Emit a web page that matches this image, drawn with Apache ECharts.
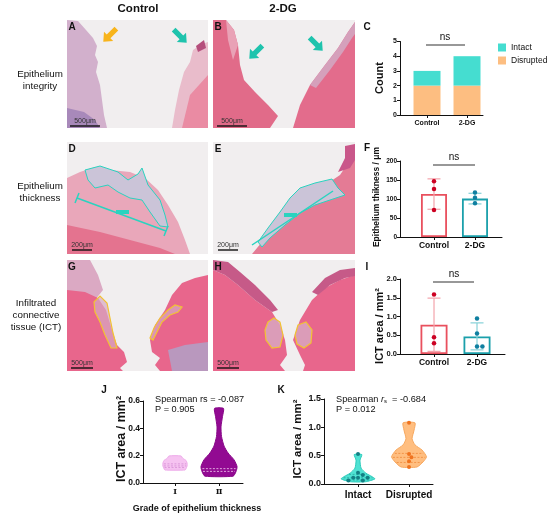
<!DOCTYPE html>
<html>
<head>
<meta charset="utf-8">
<script src="https://cdn.jsdelivr.net/npm/echarts@6/dist/echarts.min.js"></script>
<style>
html, body { margin: 0; padding: 0; background: #fff; }
#main { width: 550px; height: 517px; }
</style>
</head>
<body>
<div id="main"></div>
<script>
// C - epithelium integrity counts
var cCats = ['Control', '2-DG'];
var cDisrupted = [2, 2];
var cIntact = [1, 2];

// F - epithelium thickness
var fCats = ['Control', '2-DG'];
var fMean = [113, 101];
var fSd = [40, 14];
var fPoints = [[147, 126, 71], [117, 103, 89]];

// I - ICT area
var iCats = ['Control', '2-DG'];
var iMean = [0.78, 0.47];
var iSd = [0.71, 0.36];
var iPoints = [[1.59, 0.45, 0.29], [0.95, 0.55, 0.2, 0.2]];

// J - violins by grade of thickness
var jCats = ['Ⅰ', 'Ⅱ'];
var jLevels = [[0.095, 0.105, 0.125, 0.145, 0.165, 0.18, 0.198],
               [0.05, 0.083, 0.12, 0.17, 0.22, 0.27, 0.34, 0.41, 0.485, 0.546]];
var jDensity = [[0.56, 0.61, 0.67, 0.67, 0.61, 0.44, 0.33],
                [0.78, 0.94, 1, 0.83, 0.5, 0.28, 0.14, 0.11, 0.19, 0.25]];
var jQuart = [[0.113, 0.125, 0.14], [0.085, 0.105]];

// K - violins by integrity
var kCats = ['Intact', 'Disrupted'];
var kLevels = [[0.04, 0.09, 0.13, 0.19, 0.28, 0.42, 0.52],
               [0.30, 0.39, 0.48, 0.60, 0.69, 0.80, 0.95, 1.08]];
var kDensity = [[0.42, 0.94, 0.78, 0.44, 0.17, 0.11, 0.21],
                [0.44, 0.78, 0.97, 0.72, 0.33, 0.17, 0.28, 0.33]];
var kQuart = [[0.07, 0.11, 0.17], [0.38, 0.47, 0.54]];
var kPoints = [[0.53, 0.2, 0.16, 0.11, 0.11, 0.11, 0.06, 0.06], [1.08, 0.53, 0.47, 0.40, 0.30]];

var FONT = 'Liberation Sans, Arial, sans-serif';
var chart = echarts.init(document.getElementById('main'));

//密度插值
function densAt(lv, dn, q) {
    if (q <= lv[0]) return dn[0];
    for (var i = 1; i < lv.length; i++) {
        if (q <= lv[i]) return dn[i - 1] + (dn[i] - dn[i - 1]) * (q - lv[i - 1]) / (lv[i] - lv[i - 1]);
    }
    return dn[dn.length - 1];
}

function violin(levels, dens, quart, half, fills, strokes, qColors) {
    return function (params, api) {
        var k = api.value(0);
        var lv = levels[k], dn = dens[k];
        var w = api.size([half, 0])[0];
        var right = [], left = [];
        for (var i = 0; i < lv.length; i++) {
            var c = api.coord([k, lv[i]]);
            right.push([c[0] + dn[i] * w, c[1]]);
            left.unshift([c[0] - dn[i] * w, c[1]]);
        }
        var children = [{
            type: 'polygon',
            shape: {points: right.concat(left), smooth: 0.2},
            style: {fill: fills[k], stroke: strokes[k], lineWidth: 1}
        }];
        quart[k].forEach(function (q) {
            var c = api.coord([k, q]);
            var d = densAt(lv, dn, q) * w - 1;
            children.push({
                type: 'line',
                shape: {x1: c[0] - d, y1: c[1], x2: c[0] + d, y2: c[1]},
                style: {stroke: qColors[k], lineWidth: 0.8, lineDash: [2, 1.5]}
            });
        });
        return {type: 'group', children: children};
    };
}

//散点避让
function swarm(groups, size, colors) {
    return function (params, api) {
        var k = api.value(0), j = api.value(2);
        var vals = groups[k];
        var x0 = api.coord([k, 0])[0];
        var placed = [];
        for (var m = 0; m <= j; m++) {
            var y = api.coord([k, vals[m]])[1];
            var x = x0;
            for (var t = 0; t < 30; t++) {
                var off = t === 0 ? 0 : (t % 2 ? 1 : -1) * Math.ceil(t / 2) * size * 0.6;
                var ok = placed.every(function (p) {
                    return Math.hypot(p[0] - (x0 + off), p[1] - y) >= size;
                });
                if (ok) { x = x0 + off; break; }
            }
            placed.push([x, y]);
        }
        return {type: 'circle', shape: {cx: placed[j][0], cy: placed[j][1], r: size / 2},
            style: {fill: colors[k]}};
    };
}

//堆叠柱
function stackBar(base, vals, width) {
    return function (params, api) {
        var k = api.value(0);
        var b = base ? base[k] : 0;
        var p0 = api.coord([k, b]);
        var p1 = api.coord([k, b + vals[k]]);
        return {type: 'rect', shape: {x: p0[0] - width / 2, y: p1[1], width: width, height: p0[1] - p1[1]},
            style: {fill: api.visual('color')}};
    };
}

function errBar(means, sds, colors, cap) {
    return function (params, api) {
        var k = api.value(0);
        var top = api.coord([k, means[k] + sds[k]]);
        var bot = api.coord([k, Math.max(0, means[k] - sds[k])]);
        var st = {stroke: colors[k], lineWidth: 1.2};
        return {type: 'group', children: [
            {type: 'line', shape: {x1: top[0], y1: top[1], x2: bot[0], y2: bot[1]}, style: st},
            {type: 'line', shape: {x1: top[0] - cap / 2, y1: top[1], x2: top[0] + cap / 2, y2: top[1]}, style: st},
            {type: 'line', shape: {x1: bot[0] - cap / 2, y1: bot[1], x2: bot[0] + cap / 2, y2: bot[1]}, style: st}
        ]};
    };
}

function flat(groups) {
    var out = [];
    groups.forEach(function (g, k) {
        g.forEach(function (v, j) { out.push([k, v, j]); });
    });
    return out;
}

function xAxisOf(idx, cats, min, max, size, margin, family) {
    return {
        type: 'value', gridIndex: idx, min: min, max: max,
        splitLine: {show: false},
        axisLine: {show: true, onZero: false, lineStyle: {color: '#111', width: 1}},
        axisTick: {show: true, length: 3, customValues: [0, 1], lineStyle: {color: '#111'}},
        axisLabel: {customValues: [0, 1], margin: margin, color: '#111', fontSize: size,
            fontWeight: 'bold', fontFamily: family || FONT,
            formatter: function (v) { return cats[Math.round(v)]; }}
    };
}

function yAxisOf(idx, max, interval, size, dec) {
    return {
        type: 'value', gridIndex: idx, min: 0, max: max, interval: interval,
        splitLine: {show: false},
        axisLine: {show: true, onZero: false, lineStyle: {color: '#111', width: 1}},
        axisTick: {show: true, length: 3, lineStyle: {color: '#111'}},
        axisLabel: {margin: 3, color: '#111', fontSize: size, fontWeight: 'bold', fontFamily: FONT,
            formatter: function (v) { return v.toFixed(dec); }}
    };
}

function txt(x, y, s, size, weight, extra) {
    var el = {type: 'text', x: x, y: y, silent: true,
        style: {text: s, fontSize: size, fontWeight: weight || 'normal', fontFamily: FONT,
            fill: '#111', align: 'center', verticalAlign: 'middle'}};
    if (extra) {
        for (var key in extra) {
            if (key === 'style') { for (var s2 in extra.style) el.style[s2] = extra.style[s2]; }
            else el[key] = extra[key];
        }
    }
    return el;
}

function poly(pts, fill, stroke, lw) {
    return {type: 'polygon', silent: true, shape: {points: pts},
        style: {fill: fill || 'none', stroke: stroke || null, lineWidth: lw || 1}};
}

function rect(x, y, w, h, fill) {
    return {type: 'rect', silent: true, shape: {x: x, y: y, width: w, height: h}, style: {fill: fill}};
}

function line(x1, y1, x2, y2, color, lw) {
    return {type: 'line', silent: true, shape: {x1: x1, y1: y1, x2: x2, y2: y2},
        style: {stroke: color, lineWidth: lw || 1}};
}

function arrow(x, y, rot, color) {
    return {type: 'polygon', silent: true, x: x, y: y, rotation: rot,
        shape: {points: [[-9, -2.6], [2, -2.6], [2, -6.5], [9.5, 0], [2, 6.5], [2, 2.6], [-9, 2.6]]},
        style: {fill: color}};
}

function scaleBar(x, y, w, label) {
    return [line(x, y, x + w, y, '#111', 1.4), txt(x + w / 2, y - 5, label, 7, 'normal', {style: {fill: '#333'}})];
}

var BG = '#f1eeef';
var PINK = '#e8668c';
var TEAL = '#2ad3bf';
var YEL = '#f2c232';

//组织切片示意
var photos = [
    // A
    rect(67, 20, 141, 108, BG),
    poly([[67, 20], [78, 21], [86, 30], [93, 38], [97, 46], [95, 55], [98, 62], [96, 72], [100, 85], [102, 100], [104, 115], [107, 128], [67, 128]], '#d2b0cc'),
    poly([[67, 108], [84, 112], [95, 120], [100, 128], [67, 128]], '#a889ba'),
    poly([[193, 50], [202, 44], [208, 42], [208, 128], [172, 128], [175, 110], [179, 90], [184, 72], [190, 62]], '#e9bccb'),
    poly([[190, 95], [208, 75], [208, 128], [182, 128]], '#ea8ba3'),
    poly([[196, 46], [204, 40], [206, 48], [198, 52]], '#b54e7c'),
    arrow(110, 35, -3 * Math.PI / 4, '#f8b41c'),
    arrow(180, 36, -Math.PI / 4, '#1fc3ad'),
    // B
    rect(213, 20, 142, 108, BG),
    poly([[213, 20], [226, 20], [234, 30], [238, 45], [240, 65], [244, 80], [255, 92], [268, 105], [278, 116], [270, 128], [213, 128]], '#e16b89'),
    poly([[226, 20], [234, 30], [238, 45], [233, 60], [228, 40]], '#e9a2b6'),
    poly([[355, 22], [348, 32], [338, 48], [325, 65], [310, 85], [300, 105], [293, 128], [355, 128]], '#e36c8c'),
    poly([[355, 22], [348, 32], [338, 48], [325, 65], [310, 85], [316, 88], [330, 70], [343, 52], [352, 38], [355, 34]], '#d5a0bb'),
    arrow(256, 52, -3 * Math.PI / 4, '#1fc3ad'),
    arrow(316, 44, -Math.PI / 4, '#1fc3ad'),
    // D
    rect(67, 142, 141, 112, BG),
    poly([[67, 178], [80, 172], [95, 167], [110, 170], [130, 172], [145, 178], [158, 190], [168, 205], [178, 222], [185, 240], [190, 254], [67, 254]], '#e9a7ba'),
    poly([[67, 225], [100, 232], [130, 240], [160, 248], [175, 254], [67, 254]], '#e4738f'),
    poly([[85, 170], [100, 166], [118, 172], [128, 180], [138, 174], [142, 168], [148, 185], [160, 200], [165, 215], [168, 227], [160, 226], [150, 212], [142, 200], [130, 198], [118, 192], [108, 185], [95, 188], [88, 180]], '#cbc4d8', TEAL, 1),
    line(77, 198, 166, 231, TEAL, 1.5),
    line(75, 203, 79, 193, TEAL, 1.5),
    line(164, 236, 168, 226, TEAL, 1.5),
    rect(116, 210, 13, 4, TEAL),
    // E
    rect(213, 142, 142, 112, BG),
    poly([[355, 144], [350, 160], [340, 175], [325, 185], [305, 195], [290, 210], [275, 228], [262, 242], [252, 254], [355, 254]], '#e47b95'),
    poly([[355, 144], [345, 146], [345, 158], [338, 172], [350, 168], [355, 160]], '#c9578a'),
    poly([[300, 188], [315, 183], [332, 179], [338, 188], [345, 195], [330, 200], [315, 205], [300, 213], [285, 225], [270, 238], [262, 247], [258, 242], [268, 228], [280, 212], [290, 198]], '#cbc4d8', TEAL, 1),
    line(252, 245, 333, 191, TEAL, 1.5),
    rect(284, 213, 13, 4, TEAL),
    // G
    rect(67, 260, 141, 111, BG),
    poly([[67, 260], [90, 260], [98, 275], [103, 290], [95, 300], [67, 295]], '#dba9c3'),
    poly([[67, 290], [85, 292], [98, 298], [106, 310], [112, 330], [117, 345], [124, 352], [127, 362], [120, 368], [123, 371], [67, 371]], PINK),
    poly([[208, 275], [195, 278], [182, 283], [172, 295], [165, 310], [155, 325], [150, 340], [152, 352], [160, 358], [155, 365], [160, 371], [208, 371]], PINK),
    poly([[168, 350], [185, 345], [208, 342], [208, 371], [172, 371]], '#b998be'),
    poly([[94, 302], [100, 296], [107, 303], [110, 318], [113, 333], [117, 348], [111, 348], [105, 335], [100, 322], [95, 312]], 'rgba(215,170,195,0.7)', YEL, 1.2),
    poly([[150, 338], [154, 328], [160, 318], [168, 310], [175, 305], [182, 307], [178, 312], [170, 315], [162, 322], [157, 332], [153, 340]], 'rgba(215,170,195,0.7)', YEL, 1.2),
    // H
    rect(213, 260, 142, 111, BG),
    poly([[213, 270], [225, 275], [238, 285], [255, 300], [272, 312], [280, 325], [285, 340], [287, 355], [280, 365], [285, 371], [213, 371]], PINK),
    poly([[213, 260], [228, 262], [240, 272], [255, 285], [270, 300], [278, 310], [272, 312], [255, 300], [238, 285], [225, 275], [213, 270]], '#c65a88'),
    poly([[355, 275], [340, 280], [325, 288], [312, 300], [300, 320], [293, 340], [300, 355], [305, 365], [303, 371], [355, 371]], PINK),
    poly([[355, 268], [340, 270], [325, 278], [312, 292], [318, 295], [330, 285], [345, 278], [355, 276]], '#c65a88'),
    poly([[268, 322], [274, 318], [280, 322], [283, 335], [280, 347], [272, 348], [266, 340], [265, 330]], 'rgba(215,170,195,0.8)', YEL, 1.2),
    poly([[298, 325], [306, 322], [312, 330], [311, 343], [304, 348], [297, 344], [295, 335]], 'rgba(215,170,195,0.8)', YEL, 1.2)
]
    .concat(scaleBar(70, 126, 30, '500μm'))
    .concat(scaleBar(217, 126, 30, '500μm'))
    .concat(scaleBar(72, 250, 20, '200μm'))
    .concat(scaleBar(218, 250, 20, '200μm'))
    .concat(scaleBar(71, 368, 22, '500μm'))
    .concat(scaleBar(217, 368, 22, '500μm'));

var labels = [
    txt(138, 9, 'Control', 11.5, 'bold'),
    txt(283, 9, '2-DG', 11.5, 'bold'),
    txt(40, 74, 'Epithelium', 9.8), txt(40, 86, 'integrity', 9.8),
    txt(40, 186, 'Epithelium', 9.8), txt(40, 198, 'thickness', 9.8),
    txt(36, 303, 'Infiltrated', 9.8), txt(36, 315, 'connective', 9.8), txt(36, 327, 'tissue (ICT)', 9.8),
    txt(72, 27, 'A', 10, 'bold'), txt(218, 27, 'B', 10, 'bold'), txt(367, 27, 'C', 10, 'bold'),
    txt(72, 149, 'D', 10, 'bold'), txt(218, 149, 'E', 10, 'bold'), txt(367, 148, 'F', 10, 'bold'),
    txt(72, 267, 'G', 10, 'bold'), txt(218, 267, 'H', 10, 'bold'), txt(367, 267, 'I', 10, 'bold'),
    txt(104, 390, 'J', 10, 'bold'), txt(281, 390, 'K', 10, 'bold'),
    // ns
    txt(445, 37, 'ns', 10), line(426, 45, 465, 45, '#333', 1.2),
    txt(454, 157, 'ns', 10), line(433, 165, 475, 165, '#333', 1.2),
    txt(454, 274, 'ns', 10), line(433, 282, 474, 282, '#333', 1.2),
    // axis titles
    txt(380, 78, 'Count', 11, 'bold', {rotation: Math.PI / 2}),
    txt(377, 197, 'Epithelium thikness / μm', 8.5, 'bold', {rotation: Math.PI / 2}),
    txt(380, 326, 'ICT area / mm²', 11, 'bold', {rotation: Math.PI / 2}),
    txt(122, 439, 'ICT area / mm²', 12.5, 'bold', {rotation: Math.PI / 2}),
    txt(298, 439, 'ICT area / mm²', 11.5, 'bold', {rotation: Math.PI / 2}),
    txt(197, 509, 'Grade of epithelium thickness', 9, 'bold'),
    // spearman
    txt(155, 399, 'Spearman rs = -0.087', 9.2, 'normal', {style: {align: 'left'}}),
    txt(155, 409, 'P = 0.905', 9.2, 'normal', {style: {align: 'left'}}),
    txt(336, 399, 'Spearman {i|r}{s|s}  = -0.684', 9.2, 'normal', {style: {align: 'left',
        rich: {i: {fontStyle: 'italic', fontSize: 9.2, fontFamily: FONT},
               s: {fontSize: 6, fontFamily: FONT, padding: [5, 0, 0, 0]}}}}),
    txt(336, 409, 'P = 0.012', 9.2, 'normal', {style: {align: 'left'}})
];

var barBorder = ['#e9505e', '#1ba0ab'];
var errColor = ['#f3a3ab', '#86d1d8'];
var dotColor = ['#cc0022', '#0f7fa0'];

var option = {
    animation: false,
    backgroundColor: '#fff',
    textStyle: {fontFamily: FONT},
    legend: {
        data: ['Intact', 'Disrupted'], left: 493, top: 38, orient: 'vertical',
        itemWidth: 8, itemHeight: 8, itemGap: 4, icon: 'rect',
        textStyle: {fontSize: 8.5, color: '#111', fontFamily: FONT}
    },
    grid: [
        {left: 400, top: 41.5, width: 83, height: 73.5, outerBoundsMode: 'none'},
        {left: 400, top: 161, width: 102, height: 76, outerBoundsMode: 'none'},
        {left: 400, top: 279, width: 105, height: 75, outerBoundsMode: 'none'},
        {left: 143, top: 401, width: 100, height: 82, outerBoundsMode: 'none'},
        {left: 324, top: 399, width: 109, height: 85, outerBoundsMode: 'none'}
    ],
    xAxis: [
        xAxisOf(0, cCats, -0.675, 1.4, 7, 5),
        xAxisOf(1, fCats, -0.829, 1.659, 8.5, 4),
        xAxisOf(2, iCats, -0.791, 1.651, 8.5, 4),
        xAxisOf(3, jCats, -0.727, 1.545, 8, 5, 'DejaVu Serif, serif'),
        xAxisOf(4, kCats, -0.667, 1.47, 10, 6)
    ],
    yAxis: [
        yAxisOf(0, 5, 1, 7, 0),
        yAxisOf(1, 200, 50, 6.5, 0),
        yAxisOf(2, 2, 0.5, 7.5, 1),
        yAxisOf(3, 0.6, 0.2, 8.5, 1),
        yAxisOf(4, 1.5, 0.5, 9, 1)
    ],
    series: [
        {
            type: 'custom', name: 'Disrupted', xAxisIndex: 0, yAxisIndex: 0,
            data: cCats.map(function (c, i) { return [i, cDisrupted[i]]; }),
            itemStyle: {color: '#fdbe81'},
            renderItem: stackBar(null, cDisrupted, 27)
        },
        {
            type: 'custom', name: 'Intact', xAxisIndex: 0, yAxisIndex: 0,
            data: cCats.map(function (c, i) { return [i, cIntact[i]]; }),
            itemStyle: {color: '#45ddd0'},
            renderItem: stackBar(cDisrupted, cIntact, 27)
        },
        {
            type: 'bar', xAxisIndex: 1, yAxisIndex: 1, barWidth: 26,
            data: fMean.map(function (v, i) {
                return {value: [i, v], itemStyle: {borderColor: barBorder[i]}};
            }),
            itemStyle: {color: 'rgba(255,255,255,0)', borderWidth: 1.8}
        },
        {
            type: 'custom', xAxisIndex: 1, yAxisIndex: 1, z: 3,
            data: fMean.map(function (v, i) { return [i, v]; }),
            renderItem: errBar(fMean, fSd, errColor, 13)
        },
        {
            type: 'custom', xAxisIndex: 1, yAxisIndex: 1, z: 4,
            data: flat(fPoints), encode: {x: 0, y: 1},
            renderItem: swarm(fPoints, 4.5, dotColor)
        },
        {
            type: 'bar', xAxisIndex: 2, yAxisIndex: 2, barWidth: 27,
            data: iMean.map(function (v, i) {
                return {value: [i, v], itemStyle: {borderColor: barBorder[i]}};
            }),
            itemStyle: {color: 'rgba(255,255,255,0)', borderWidth: 1.8}
        },
        {
            type: 'custom', xAxisIndex: 2, yAxisIndex: 2, z: 3,
            data: iMean.map(function (v, i) { return [i, v]; }),
            renderItem: errBar(iMean, iSd, errColor, 13)
        },
        {
            type: 'custom', xAxisIndex: 2, yAxisIndex: 2, z: 4,
            data: flat(iPoints), encode: {x: 0, y: 1},
            renderItem: swarm(iPoints, 4.5, dotColor)
        },
        {
            type: 'custom', xAxisIndex: 3, yAxisIndex: 3,
            data: jCats.map(function (c, i) { return [i, jLevels[i][0]]; }),
            renderItem: violin(jLevels, jDensity, jQuart, 0.41,
                ['#f6c3f1', '#920a92'], ['#eeaaea', '#880888'], ['#d48dd4', '#f2d0f2'])
        },
        {
            type: 'custom', xAxisIndex: 4, yAxisIndex: 4,
            data: kCats.map(function (c, i) { return [i, kLevels[i][0]]; }),
            renderItem: violin(kLevels, kDensity, kQuart, 0.353,
                ['#4fe2d3', '#ffbe80'], ['#2bcbbb', '#f7a85f'], ['#26a89c', '#f08a3a'])
        },
        {
            type: 'custom', xAxisIndex: 4, yAxisIndex: 4, z: 4,
            data: flat(kPoints), encode: {x: 0, y: 1},
            renderItem: swarm(kPoints, 4, ['#137f84', '#f0731f'])
        }
    ],
    graphic: photos.concat(labels)
};
chart.setOption(option);
</script>
</body>
</html>
